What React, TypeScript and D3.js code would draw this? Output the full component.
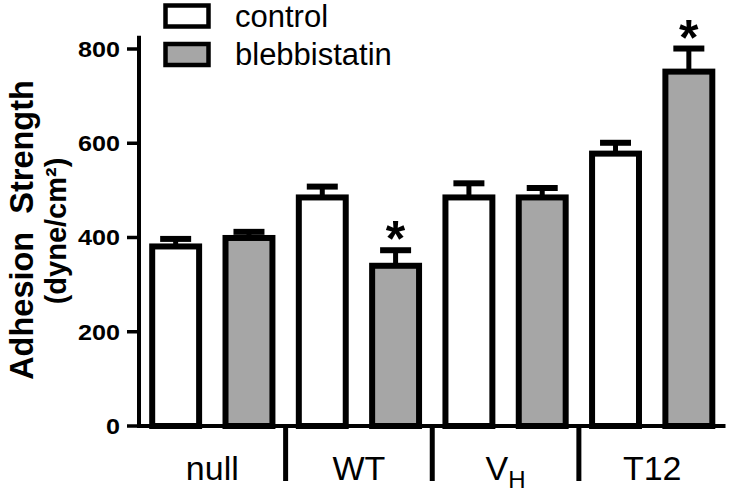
import React from "react";
import * as d3 from "d3";

const groups = ["null", "WT", "VH", "T12"];
const labelMain = ["null", "WT", "V", "T12"];
const labelSub = ["", "", "H", ""];
const series = ["control", "blebbistatin"];
const controlMeans = [381, 485, 485, 578];
const controlErrors = [16, 23, 30, 23];
const blebMeans = [399, 340, 485, 752];
const blebErrors = [13, 33, 20, 49];
const blebSignificant = [false, true, false, true];
const yTicks = [0, 200, 400, 600, 800];
const seriesFill = ["#ffffff", "#a6a6a6"];

const W = 730;
const H = 493;
const FONT = "'Liberation Sans', Arial, Helvetica, sans-serif";

export default function App() {
  const x0 = d3.scaleBand<string>().domain(groups).range([139, 725.5]).paddingInner(0).paddingOuter(0);
  const x1 = d3
    .scaleBand<string>()
    .domain(series)
    .range([0, x0.bandwidth()])
    .paddingInner(0.36)
    .paddingOuter(0.18);
  const y = d3.scaleLinear().domain([0, 800]).range([426, 49]);
  const yAxisTop = y(828);
  const values = [controlMeans, blebMeans];
  const errors = [controlErrors, blebErrors];
  const bw = x1.bandwidth();
  const capW = 31;

  return (
    <svg width={W} height={H} style={{ position: "absolute", left: 0, top: 0, background: "#fff" }}>
      <rect x={0} y={0} width={W} height={H} fill="#fff" />
      {/* bars */}
      {groups.map((g, gi) =>
        series.map((s, si) => {
          const v = values[si][gi];
          const e = errors[si][gi];
          const cx = (x0(g) as number) + (x1(s) as number) + bw / 2;
          return (
            <g key={g + s}>
              <line x1={cx} x2={cx} y1={y(v)} y2={y(v + e)} stroke="#000" strokeWidth={5} />
              <line x1={cx - capW / 2} x2={cx + capW / 2} y1={y(v + e)} y2={y(v + e)} stroke="#000" strokeWidth={6} />
              <rect
                x={(x0(g) as number) + (x1(s) as number)}
                y={y(v)}
                width={bw}
                height={y(0) - y(v)}
                fill={seriesFill[si]}
                stroke="#000"
                strokeWidth={6}
              />
              {si === 1 && blebSignificant[gi] ? (
                <text
                  x={cx}
                  y={y(v + e) - 22 + 28}
                  textAnchor="middle"
                  fontFamily={FONT}
                  fontWeight="bold"
                  fontSize={50}
                >
                  *
                </text>
              ) : null}
            </g>
          );
        })
      )}
      {/* y axis */}
      <line x1={139} x2={139} y1={yAxisTop} y2={y(0) + 2} stroke="#000" strokeWidth={4} />
      {yTicks.map((t) => (
        <g key={t}>
          <line x1={127} x2={139} y1={y(t)} y2={y(t)} stroke="#000" strokeWidth={3.5} />
          <text
            x={120}
            y={y(t)}
            dy="0.36em"
            textAnchor="end"
            fontFamily={FONT}
            fontWeight="bold"
            fontSize={22}
            textLength={String(t).length * 14}
            lengthAdjust="spacingAndGlyphs"
          >
            {t}
          </text>
        </g>
      ))}
      {/* x axis */}
      <line x1={137} x2={725.5} y1={y(0)} y2={y(0)} stroke="#000" strokeWidth={4} />
      {groups.slice(1).map((g) => (
        <line
          key={"sep" + g}
          x1={x0(g) as number}
          x2={x0(g) as number}
          y1={y(0)}
          y2={y(0) + 55}
          stroke="#000"
          strokeWidth={5}
        />
      ))}
      {groups.map((g, gi) => (
        <text
          key={"lab" + g}
          x={(x0(g) as number) + x0.bandwidth() / 2}
          y={480}
          textAnchor="middle"
          fontFamily={FONT}
          fontSize={34}
        >
          {labelMain[gi]}
          {labelSub[gi] ? (
            <tspan dy={8} fontSize={24}>
              {labelSub[gi]}
            </tspan>
          ) : null}
        </text>
      ))}
      {/* y label */}
      <text
        transform={`translate(33,230) rotate(-90)`}
        textAnchor="middle"
        fontFamily={FONT}
        fontWeight="bold"
        fontSize={32.5}
        style={{ whiteSpace: "pre" }}
      >
        {"Adhesion  Strength"}
      </text>
      <text
        transform={`translate(66,231) rotate(-90)`}
        textAnchor="middle"
        fontFamily={FONT}
        fontWeight="bold"
        fontSize={29}
      >
        (dyne/cm²)
      </text>
      {/* legend */}
      {series.map((s, si) => (
        <g key={"leg" + s}>
          <rect
            x={165.5}
            y={5.5 + si * 38.5}
            width={43}
            height={21}
            fill={seriesFill[si]}
            stroke="#000"
            strokeWidth={4.5}
          />
          <text x={235} y={26.5 + si * 38.5} fontFamily={FONT} fontSize={31}>
            {s}
          </text>
        </g>
      ))}
    </svg>
  );
}
